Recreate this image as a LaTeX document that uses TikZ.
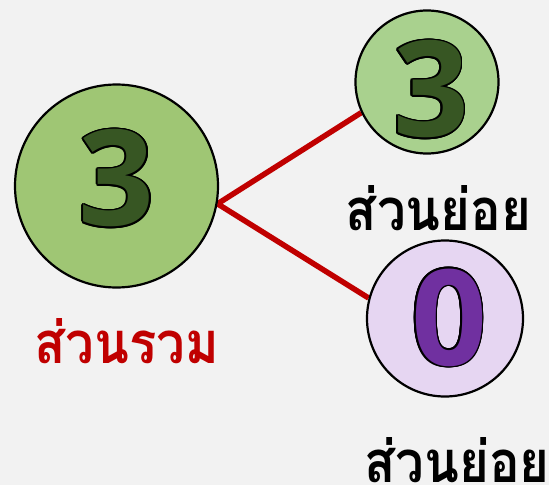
\documentclass[tikz,border=0pt]{standalone}
\usepackage{fontspec}
\usepackage{contour}
\usetikzlibrary{backgrounds}
\newfontfamily\thaifont[Script=Thai,FakeStretch=0.88]{Loma}
\newfontfamily\digitfont{Open Sans}
\definecolor{paper}{HTML}{F2F2F2}
\definecolor{wholeGreen}{HTML}{9FC674}
\definecolor{partGreen}{HTML}{A9D18E}
\definecolor{partLilac}{HTML}{E6D6F2}
\definecolor{digitGreen}{HTML}{375623}
\definecolor{digitPurple}{HTML}{7030A0}
\definecolor{linkRed}{HTML}{C00000}
\contourlength{1.6pt}
\tikzset{part/.style={circle, draw=black, line width=2.2pt, inner sep=0pt},
         digit/.style={font=\digitfont\bfseries\fontsize{133}{133}\selectfont, inner sep=0pt},
         thaitext/.style={font=\thaifont\bfseries\fontsize{58}{58}\selectfont, inner sep=0pt, anchor=base},
         link/.style={draw=linkRed, line width=5.5pt}}

\begin{document}
\begin{tikzpicture}[x=1pt,y=-1pt]
   \useasboundingbox (0,0) rectangle (549,485);
   % circles
   \node[part, fill=wholeGreen, minimum size=203pt] (whole) at (116.5,186) {};
   \node[part, fill=partGreen, minimum size=143pt] (partA) at (427,82) {};
   \node[part, fill=partLilac, minimum size=156pt] (partB) at (445,318.5) {};
   \node[digit] (wholeNum) at (116.5,179) {\contour{black}{\textcolor{digitGreen}{3}}};
   \node[digit] (partANum) at (431,90) {\contour{black}{\textcolor{digitGreen}{3}}};
   \node[digit] (partBNum) at (449,318.5) {\contour{black}{\textcolor{digitPurple}{0}}};
   % links
   \begin{pgfonlayer}{background}
     \fill[paper] (0,0) rectangle (549,485);
     \coordinate (fork) at (whole.-10.6);
     \draw[link] (fork) -- (partA.205);
     \draw[link] (fork) -- (partB.165);
   \end{pgfonlayer}
   % labels
   \node[thaitext, text=linkRed] (wholeText) at (126.5,363) {ส่วนรวม};
   \node[thaitext] (partAText) at (438.5,230) {ส่วนย่อย};
   \node[thaitext] (partBText) at (457,482) {ส่วนย่อย};
\end{tikzpicture}
\end{document}
